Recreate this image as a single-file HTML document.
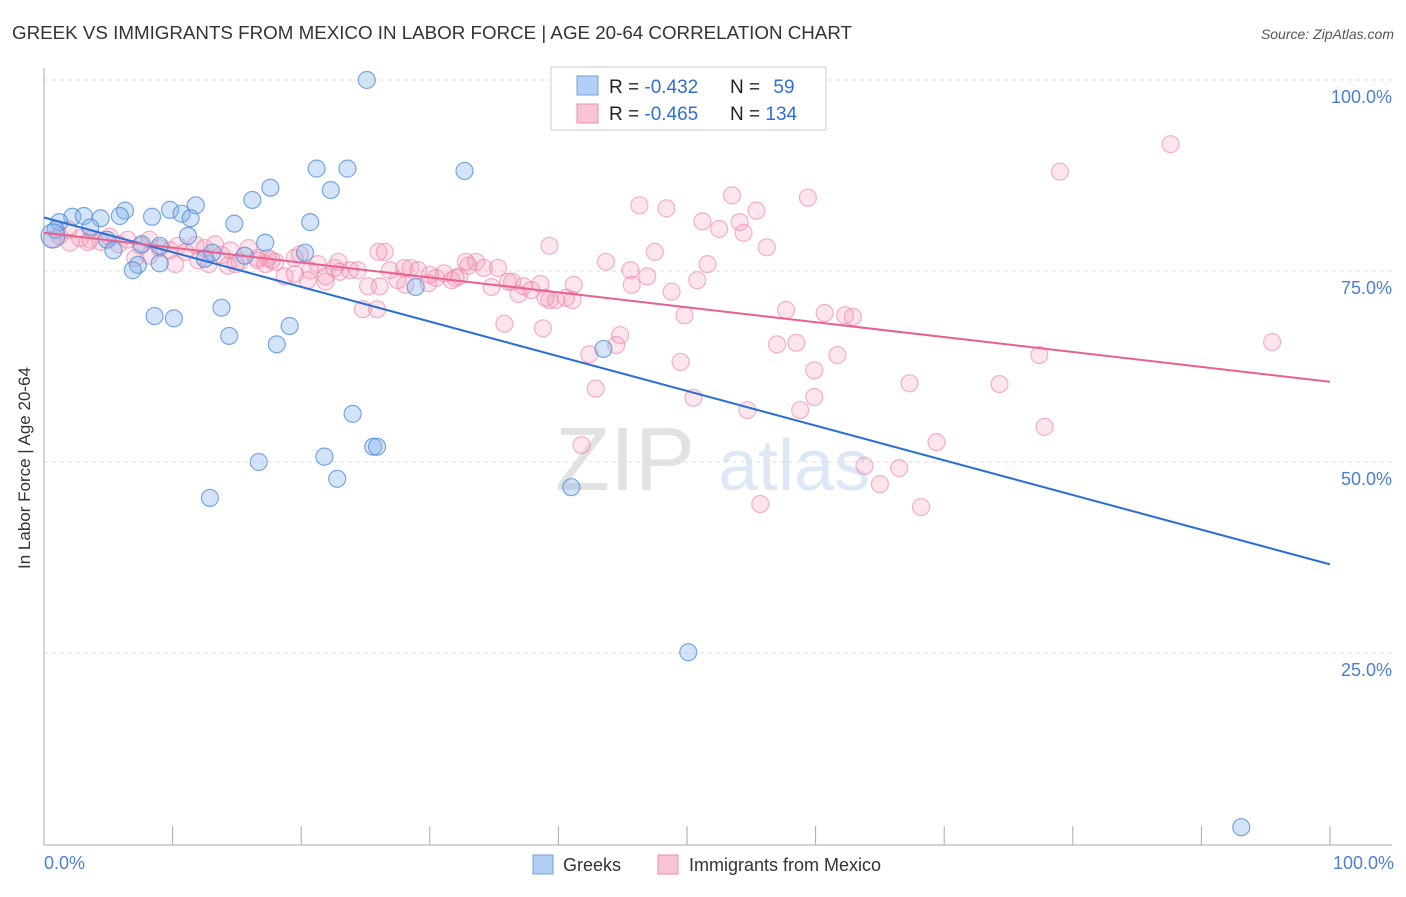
<!DOCTYPE html>
<html><head><meta charset="utf-8"><style>
body{margin:0;background:#fff;font-family:"Liberation Sans",sans-serif}
svg text{font-family:"Liberation Sans",sans-serif}
</style></head><body>
<svg width="1406" height="892" xmlns="http://www.w3.org/2000/svg">
<text x="12" y="39" font-size="18" fill="#333" textLength="840" lengthAdjust="spacingAndGlyphs">GREEK VS IMMIGRANTS FROM MEXICO IN LABOR FORCE | AGE 20-64 CORRELATION CHART</text>
<text x="1394" y="39" font-size="14" font-style="italic" fill="#555" text-anchor="end">Source: ZipAtlas.com</text>
<g opacity="0.18">
<text x="555" y="490" font-size="90" font-family="Liberation Serif" fill="#666">ZIP</text>
<text x="718" y="490" font-size="72" fill="#4a86d8">atlas</text></g>
<g id="grid"></g>
<g id="axes"></g>
<g id="pts"></g>
<g id="lines"></g>
<text x="20" y="458" font-size="17" fill="#333" transform="rotate(-90 30 458)" text-anchor="middle">In Labor Force | Age 20-64</text>
<text x="44" y="869" font-size="18" fill="#4a7fd4">0.0%</text>
<text x="1394" y="869" font-size="18" fill="#4a7fd4" text-anchor="end">100.0%</text>
<g>
<rect x="551" y="67" width="275" height="63" fill="#fff" stroke="#ccc"/>
<rect x="577" y="76" width="21" height="19" fill="#b3cff3" stroke="#6fa0e0"/>
<rect x="577" y="104" width="21" height="19" fill="#f8c3d4" stroke="#ee8db0"/>
<text x="609" y="93" font-size="19" fill="#222">R = <tspan fill="#2f6fd4">-0.432</tspan></text>
<text x="730" y="93" font-size="19" fill="#222">N = <tspan fill="#2f6fd4" dx="8">59</tspan></text>
<text x="609" y="120" font-size="19" fill="#222">R = <tspan fill="#2f6fd4">-0.465</tspan></text>
<text x="730" y="120" font-size="19" fill="#222">N = <tspan fill="#2f6fd4">134</tspan></text>
</g>
<g>
<rect x="533" y="855" width="20" height="19" fill="#b3cff3" stroke="#6fa0e0"/>
<text x="563" y="871" font-size="18" fill="#333">Greeks</text>
<rect x="658" y="855" width="20" height="19" fill="#f8c3d4" stroke="#ee8db0"/>
<text x="689" y="871" font-size="18" fill="#333">Immigrants from Mexico</text>
</g>
</svg>
<script>
const blueX=[25.1,21.2,23.6,32.7,17.6,22.3,16.2,11.8,9.8,6.3,8.4,10.7,11.4,14.8,20.7,4.4,2.2,3.1,1.2,0.9,3.6,5.9,4.9,5.4,7.6,11.2,17.2,20.3,15.6,13.1,12.5,9.0,7.3,6.9,28.9,13.8,8.6,10.1,19.1,14.4,18.1,43.5,24.0,25.6,25.9,16.7,21.8,22.8,12.9,41.0,50.1,93.1,0.7,51.7,56.3,9.0];
const blueY=[100,88.4,88.4,88.1,85.9,85.6,84.3,83.6,83.0,82.9,82.1,82.5,81.9,81.2,81.4,81.9,82.1,82.2,81.4,80.4,80.7,82.2,79.1,77.7,78.5,79.6,78.7,77.4,77.0,77.4,76.6,76.0,75.8,75.1,72.9,70.2,69.1,68.8,67.8,66.5,65.4,64.8,56.3,52.0,52.0,50.0,50.7,47.8,45.3,46.7,25.1,2.2,79.6,100,100,78.3];
const pinkX=[87.6,79.0,53.5,59.4,46.3,48.4,55.4,51.2,54.1,52.5,54.4,39.3,56.2,47.5,43.7,51.6,45.6,46.9,50.8,41.2,45.7,48.8,49.8,57.7,60.7,62.3,62.9,35.8,38.8,44.8,44.5,57.0,58.5,95.5,42.4,61.7,77.4,49.5,67.3,74.3,42.9,59.9,50.5,59.9,54.7,58.8,77.8,41.8,69.4,63.8,66.5,65.0,55.7,68.2,47.7,41.8,
0.6,1.2,2.0,2.8,3.6,4.4,5.1,5.8,6.5,7.5,8.2,9.0,9.8,10.4,11.0,11.8,12.5,13.3,13.8,14.5,15.2,15.9,16.6,17.4,18.0,18.7,19.5,19.9,20.7,21.3,21.9,22.6,23.0,23.8,24.4,25.2,26.0,26.9,27.5,28.0,28.5,29.1,29.9,30.5,31.1,31.7,32.3,33.0,33.6,34.2,34.8,35.3,36.1,36.9,37.3,37.9,38.6,39.8,40.6,41.1,24.8,25.9,22.9,20.5,12.0,14.3,16.6,17.7,26.5,28.1,32.0,39.3,3.4,1.9,7.1,8.2,10.2,12.8,14.9,17.2,19.5,21.9,26.1,30.0,32.8,36.4,39.0];
const pinkY=[91.6,88.0,84.9,84.6,83.6,83.2,82.9,81.5,81.4,80.5,80.0,78.3,78.1,77.5,76.2,75.9,75.1,74.3,73.8,73.2,73.2,72.3,69.2,69.9,69.5,69.2,69.0,68.1,67.5,66.6,65.3,65.4,65.6,65.7,64.1,64.0,64.0,63.1,60.3,60.2,59.6,62.0,58.4,58.5,56.8,56.8,54.6,52.2,52.6,49.5,49.2,47.1,44.5,44.1,100,95.7,
79.1,79.6,78.7,79.3,79.1,78.8,79.5,78.5,79.1,78.3,79.1,78.0,77.7,78.3,77.5,78.4,78.0,78.5,77.1,77.7,76.2,78.0,76.7,76.7,76.2,74.3,76.7,77.2,75.1,75.9,74.3,75.4,74.9,75.1,75.1,73.0,77.5,75.1,73.8,75.4,75.4,75.1,73.4,74.1,74.7,73.8,74.3,75.7,76.2,75.4,72.9,75.4,73.6,72.0,73.0,72.5,73.3,71.2,71.5,71.2,70.0,70.0,76.2,73.8,76.4,75.7,76.4,76.4,77.5,73.2,74.1,71.2,78.8,80.4,76.7,77.0,75.9,75.9,75.9,75.9,74.6,73.6,73.0,74.5,76.2,73.6,71.5];
const yTicks=[25,50,75,100];
const yTickLabels=["25.0%","50.0%","75.0%","100.0%"];
const blueTrend=[82.0,36.6];
const pinkTrend=[80.0,60.5];
const NS="http://www.w3.org/2000/svg";
const X=v=>44+v*12.86, Y=v=>844-v*7.64;
function mk(t,a,p){const e=document.createElementNS(NS,t);for(const k in a)e.setAttribute(k,a[k]);p.appendChild(e);return e;}
const grid=document.getElementById('grid'),axes=document.getElementById('axes');
yTicks.forEach((t,i)=>{
 const l=mk('line',{x1:44,x2:1392,y1:Y(t),y2:Y(t),stroke:'#ddd','stroke-dasharray':'4,4'},grid);
 
 
 const tx=mk('text',{x:1392,y:Y(t)+23,'font-size':18,fill:'#4a7fd4','text-anchor':'end'},axes);
 tx.textContent=yTickLabels[i];
 
 
});
mk('line',{x1:44,x2:44,y1:68,y2:845,stroke:'#aaa'},axes);
mk('line',{x1:44,x2:1392,y1:845,y2:845,stroke:'#aaa'},axes);
for(let i=0;i<=10;i++){const tk=mk('line',{x1:X(i*10),x2:X(i*10),y1:826,y2:845,stroke:'#aaa'},axes);
 
 }
const pts=document.getElementById('pts');
pinkX.forEach((v,i)=>{const c=mk('circle',{cx:X(v),cy:Y(pinkY[i]),r:8.5,fill:'rgba(244,150,180,0.25)',stroke:'rgba(236,130,165,0.6)','stroke-width':1.2},pts);
 
 });
blueX.forEach((v,i)=>{const c=mk('circle',{cx:X(v),cy:Y(blueY[i]),r:(i==52?12:8.5),fill:'rgba(130,175,235,0.35)',stroke:'rgba(80,140,220,0.75)','stroke-width':1.2},pts);
 
 });
const lines=document.getElementById('lines');
const bl=mk('line',{x1:X(0),y1:Y(blueTrend[0]),x2:X(100),y2:Y(blueTrend[1]),stroke:'#2a6fd6','stroke-width':2},lines);


const pl=mk('line',{x1:X(0),y1:Y(pinkTrend[0]),x2:X(100),y2:Y(pinkTrend[1]),stroke:'#e8608e','stroke-width':2},lines);


</script>
</body></html>
